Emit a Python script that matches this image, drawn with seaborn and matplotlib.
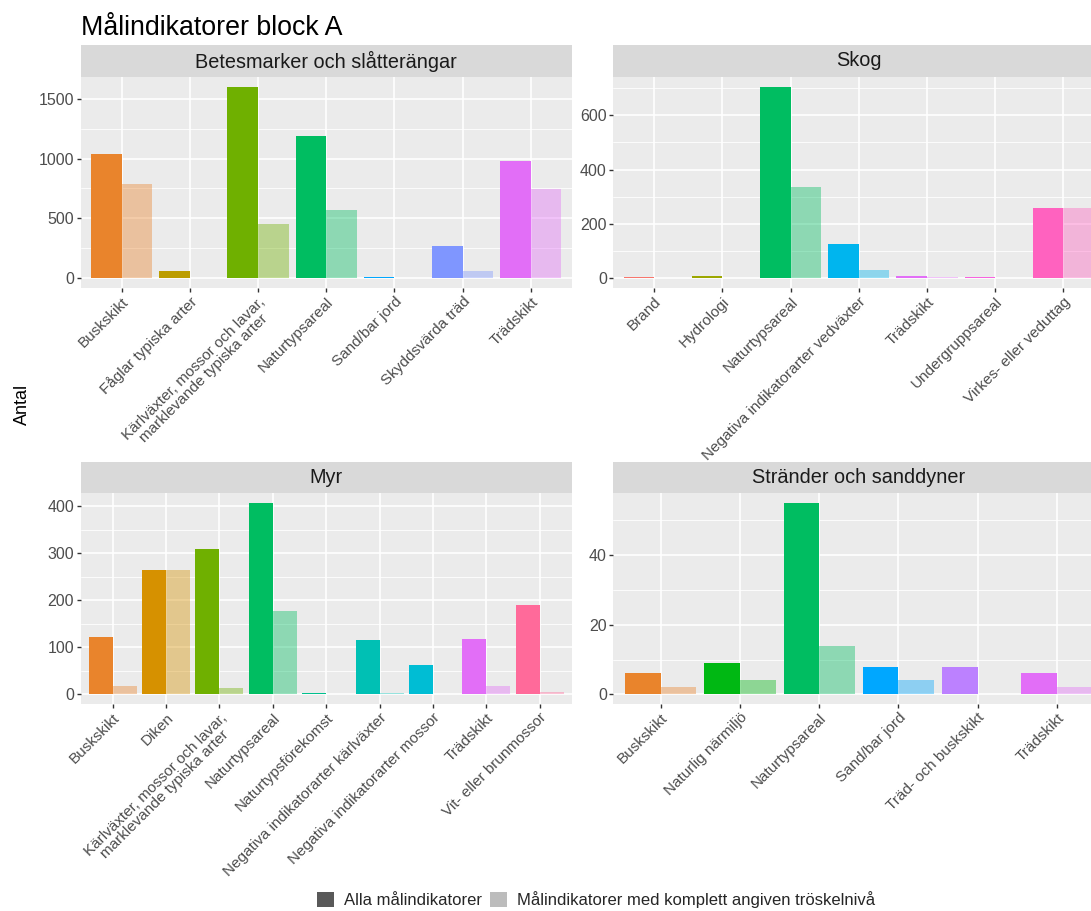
import numpy as np
import pandas as pd
import matplotlib
matplotlib.use("Agg")
import matplotlib.pyplot as plt
from matplotlib.patches import Patch
from matplotlib.ticker import FixedLocator
import seaborn as sns

# ---- data -------------------------------------------------------------
TITLE = "Målindikatorer block A"
YLABEL = "Antal"
SERIES = ["Alla målindikatorer", "Målindikatorer med komplett angiven tröskelnivå"]
KARL = "Kärlväxter, mossor och lavar,\nmarklevande typiska arter"

betes_title = "Betesmarker och slåtterängar"
betes_cat = ["Buskskikt", "Fåglar typiska arter", KARL, "Naturtypsareal",
             "Sand/bar jord", "Skyddsvärda träd", "Trädskikt"]
betes_alla = [1040, 64, 1600, 1187, 8, 267, 981]
betes_komplett = [785, 0, 456, 567, 5, 64, 742]
betes_ticks = [0, 500, 1000, 1500]

skog_title = "Skog"
skog_cat = ["Brand", "Hydrologi", "Naturtypsareal",
            "Negativa indikatorarter vedväxter", "Trädskikt",
            "Undergruppsareal", "Virkes- eller veduttag"]
skog_alla = [4, 9, 705, 127, 9, 7, 258]
skog_komplett = [0, 0, 337, 32, 7, 2, 257]
skog_ticks = [0, 200, 400, 600]

myr_title = "Myr"
myr_cat = ["Buskskikt", "Diken", KARL, "Naturtypsareal", "Naturtypsförekomst",
           "Negativa indikatorarter kärlväxter",
           "Negativa indikatorarter mossor", "Trädskikt",
           "Vit- eller brunmossor"]
myr_alla = [122, 265, 310, 408, 3, 115, 62, 117, 190]
myr_komplett = [18, 265, 13, 177, 1, 3, 0, 18, 6]
myr_ticks = [0, 100, 200, 300, 400]

strand_title = "Stränder och sanddyner"
strand_cat = ["Buskskikt", "Naturlig närmiljö", "Naturtypsareal",
              "Sand/bar jord", "Träd- och buskskikt", "Trädskikt"]
strand_alla = [6, 9, 55, 8, 8, 6]
strand_komplett = [2, 4, 14, 4, 0, 2]
strand_ticks = [0, 20, 40]


# ---- colours: evenly spaced HCL hues (L=65, C=100) -----------------------
def hcl_hex(h, c=100.0, l=65.0):
    h = np.deg2rad(h)
    u, v = c * np.cos(h), c * np.sin(h)
    Xn, Yn, Zn = 95.047, 100.0, 108.883
    Y = Yn * ((l + 16) / 116) ** 3
    den = Xn + 15 * Yn + 3 * Zn
    un, vn = 4 * Xn / den, 9 * Yn / den
    up, vp = u / (13 * l) + un, v / (13 * l) + vn
    X = Y * 9 * up / (4 * vp)
    Z = Y * (12 - 3 * up - 20 * vp) / (4 * vp)
    M = np.array([[3.2404542, -1.5371385, -0.4985314],
                  [-0.9692660, 1.8760108, 0.0415560],
                  [0.0556434, -0.2040259, 1.0572252]])
    rgb = M @ (np.array([X, Y, Z]) / 100)
    rgb = np.where(rgb <= 0.0031308, 12.92 * rgb,
                   1.055 * np.clip(rgb, 0, None) ** (1 / 2.4) - 0.055)
    rgb = np.clip(rgb, 0, 1)
    return matplotlib.colors.to_hex(rgb)


all_cats = sorted(set(betes_cat + skog_cat + myr_cat + strand_cat))
n_all = len(all_cats)
hues = 15 + np.arange(n_all) * 360 / n_all
cat_color = {c: hcl_hex(h) for c, h in zip(all_cats, hues)}
LIGHT_ALPHA = 0.4

# ---- style ---------------------------------------------------------------
sns.set_theme(style="darkgrid", rc={
    "axes.facecolor": "#EBEBEB",
    "grid.color": "white",
    "axes.edgecolor": "none",
})
plt.rcParams["font.family"] = ["Liberation Sans", "DejaVu Sans"]

W, H = 1091, 911
fig = plt.figure(figsize=(W / 100, H / 100), dpi=100)
fig.patch.set_facecolor("white")


def fx(px):
    return px / W


def fy(py):
    return 1 - py / H


panels = [
    (betes_title, betes_cat, betes_alla, betes_komplett, betes_ticks, 80.7, 45, 77, 288),
    (skog_title, skog_cat, skog_alla, skog_komplett, skog_ticks, 613.3, 45, 77, 288),
    (myr_title, myr_cat, myr_alla, myr_komplett, myr_ticks, 80.7, 462, 493, 704),
    (strand_title, strand_cat, strand_alla, strand_komplett, strand_ticks, 613.3, 462, 493, 704),
]
PW = 491

for title, cats, alla, komplett, ticks, x0, s0, p0, p1 in panels:
    ax = fig.add_axes([fx(x0), fy(p1), fx(PW), (p1 - p0) / H])
    df = pd.DataFrame({
        "kategori": cats * 2,
        "antal": alla + komplett,
        "serie": [SERIES[0]] * len(cats) + [SERIES[1]] * len(cats),
    })
    sns.barplot(data=df, x="kategori", y="antal", hue="serie",
                order=cats, hue_order=SERIES, width=0.9, errorbar=None,
                saturation=1, legend=False, ax=ax, zorder=3)
    for ci, cont in enumerate(ax.containers):
        for cat, patch in zip(cats, cont.patches):
            patch.set_facecolor(cat_color[cat])
            patch.set_edgecolor("none")
            patch.set_linewidth(0)
            if ci == 1:
                patch.set_alpha(LIGHT_ALPHA)

    n = len(cats)
    ax.set_xlim(-0.6, n - 1 + 0.6)
    ymax = max(alla + komplett)
    ax.set_ylim(-0.05 * ymax, 1.05 * ymax)
    ax.set_yticks(ticks)
    step = ticks[1] - ticks[0]
    minors = [t + step / 2 for t in [ticks[0] - step] + ticks]
    ax.yaxis.set_minor_locator(FixedLocator(minors))
    ax.grid(which="major", color="white", linewidth=1.2, zorder=0)
    ax.grid(which="minor", axis="y", color="white", linewidth=0.6, zorder=0)
    ax.set_axisbelow(True)
    ax.set_xticks(range(n))
    ax.set_xticklabels(cats, rotation=45, ha="right", rotation_mode="anchor",
                       multialignment="center", fontsize=11, color="#4D4D4D",
                       linespacing=0.95)
    ax.tick_params(axis="y", labelsize=11.5, labelcolor="#4D4D4D")
    ax.tick_params(which="major", length=3.2, width=1.0, color="#333333",
                   pad=1.5, bottom=True, left=True)
    ax.tick_params(which="minor", length=0)
    ax.set_xlabel("")
    ax.set_ylabel("")
    for sp in ax.spines.values():
        sp.set_visible(False)

    sax = fig.add_axes([fx(x0), fy(p0), fx(PW), (p0 - s0) / H])
    sax.set_facecolor("#D9D9D9")
    sax.set_xticks([])
    sax.set_yticks([])
    sax.grid(False)
    for sp in sax.spines.values():
        sp.set_visible(False)
    sax.text(0.5, 0.5, title, ha="center", va="center", fontsize=14.3,
             color="#1A1A1A", transform=sax.transAxes)

fig.text(fx(80.7), fy(28), TITLE, ha="left", va="center", fontsize=19.3,
         color="black")
fig.text(fx(22), fy(404), YLABEL, ha="center", va="center", rotation=90,
         fontsize=13, color="black")

handles = [Patch(facecolor="#595959", edgecolor="none"),
           Patch(facecolor="#595959", edgecolor="none", alpha=LIGHT_ALPHA)]
fig.legend(handles, SERIES, loc="center", bbox_to_anchor=(fx(596), fy(900)),
           ncol=2, frameon=False, fontsize=12, handlelength=1.0,
           handleheight=1.0, handletextpad=0.6, columnspacing=0.5,
           borderaxespad=0, borderpad=0)

fig.savefig("out.png", dpi=100, facecolor="white")
